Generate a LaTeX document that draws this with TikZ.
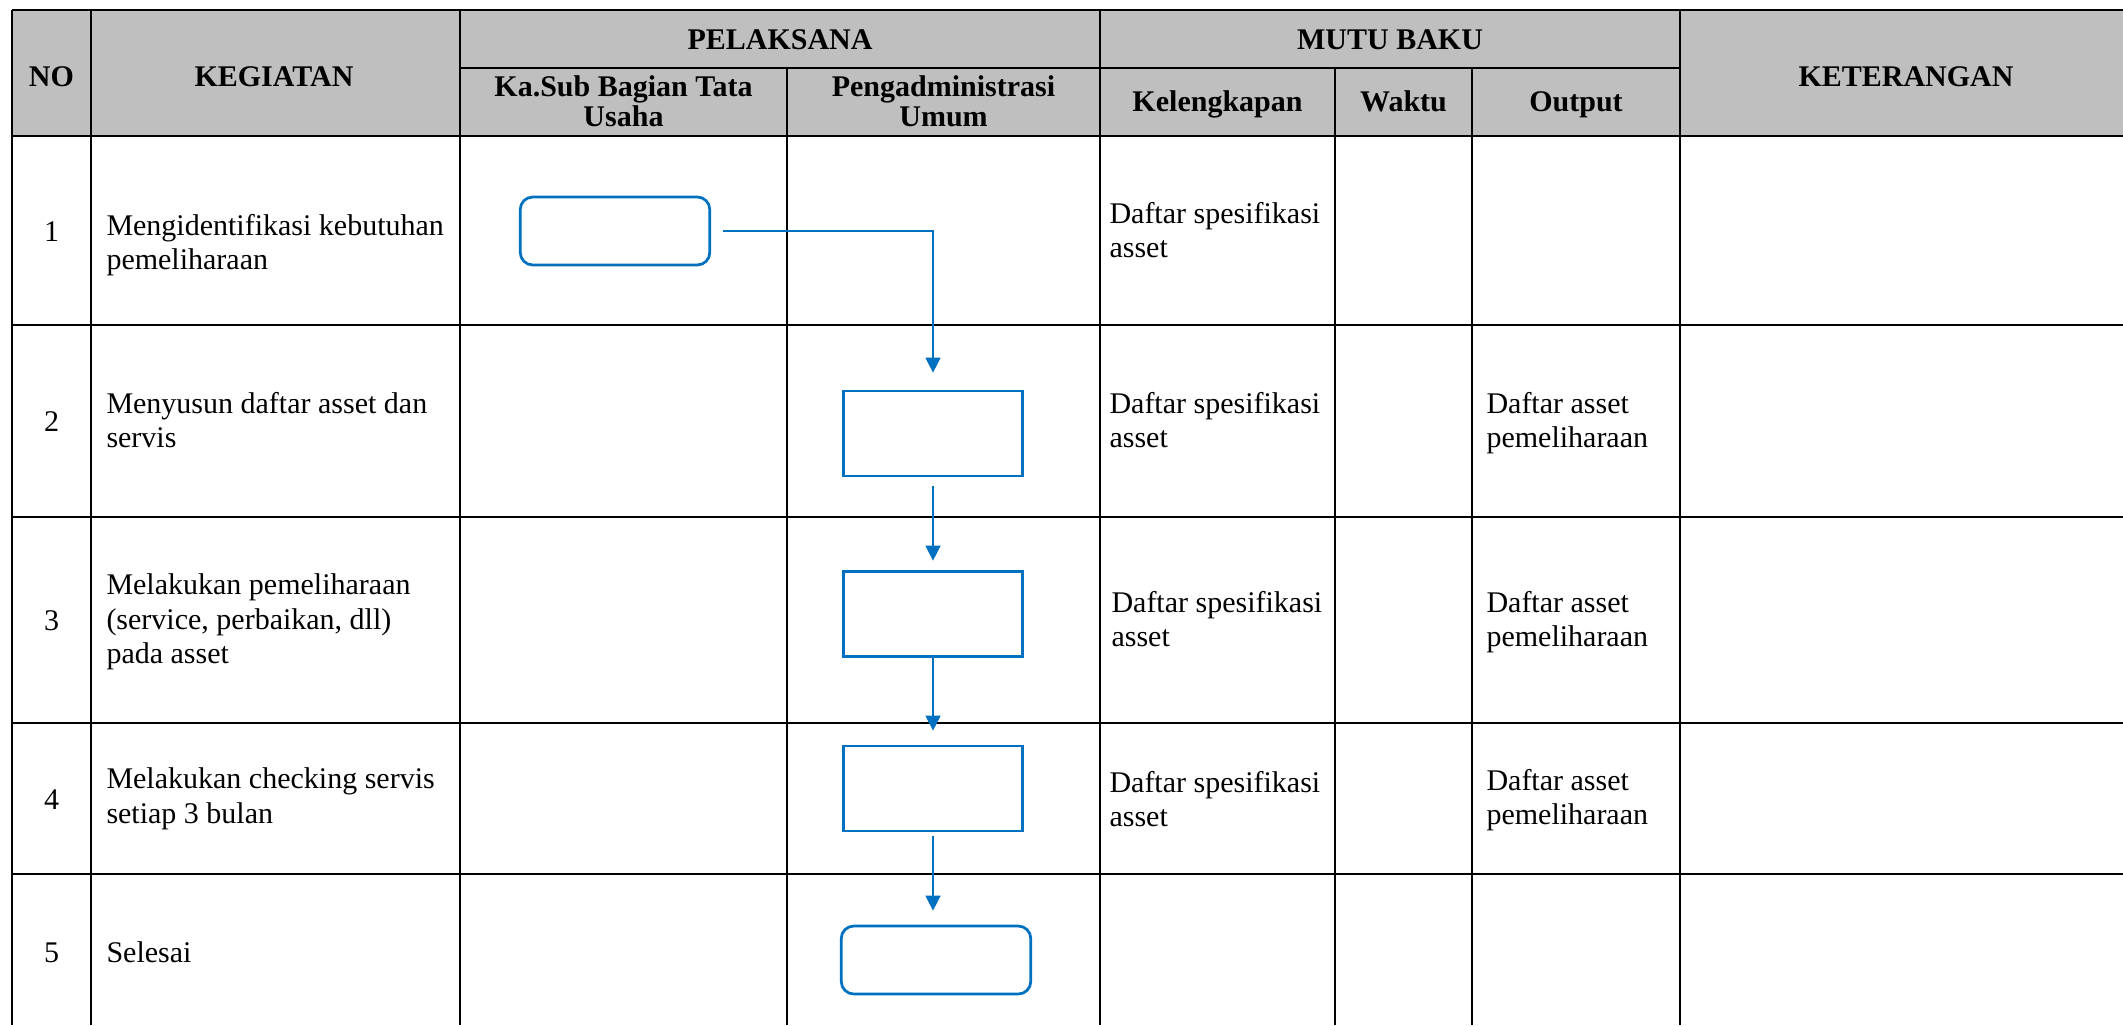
\documentclass[tikz,border=0pt]{standalone}
\usepackage{fontspec}
\setmainfont{Liberation Serif}
\usepackage{xcolor}
\usepackage{tikz}
\usetikzlibrary{arrows.meta, positioning}
\definecolor{flowblue}{RGB}{0, 112, 192}
\definecolor{headgray}{RGB}{191, 191, 191}

\begin{document}
\begin{tikzpicture}[
    x=0.4pt, y=-0.4pt,
    font=\fontsize{12}{13.8}\selectfont,
    tline/.style={line width=0.9pt},
    head/.style={font=\fontsize{12}{12}\selectfont\bfseries, align=center, inner sep=0pt},
    cell/.style={anchor=west, align=left, inner sep=0pt},
    num/.style={inner sep=0pt},
    proc/.style={draw=flowblue, line width=1.1pt, minimum width=71.7pt, minimum height=34pt},
    term/.style={draw=flowblue, line width=1.1pt, rounded corners=5pt,
                 minimum width=75.8pt, minimum height=27.2pt},
    flow/.style={draw=flowblue, line width=0.6pt, -{Triangle[length=6pt, width=6pt]}}
]
    \useasboundingbox (0,0) rectangle (2123,1025);

    \fill[headgray] (12,10) rectangle (2123,136);
    \draw[tline] (12,10) -- (2123,10) (460,68) -- (1680,68) (12,136) -- (2123,136)
        (12,325) -- (2123,325) (12,517) -- (2123,517) (12,723) -- (2123,723) (12,874) -- (2123,874);
    \draw[tline] (12,10) -- (12,1025) (91,10) -- (91,1025) (460,10) -- (460,1025)
        (1100,10) -- (1100,1025) (1680,10) -- (1680,1025)
        (787,68) -- (787,1025) (1335,68) -- (1335,1025) (1472,68) -- (1472,1025);

    \node[head, anchor=base] (no) at (51.5,87) {NO};
    \node[head, anchor=base] (kegiatan) at (274,87) {KEGIATAN};
    \node[head, anchor=base] (pelaksana) at (780,50) {PELAKSANA};
    \node[head, anchor=base] (mutu) at (1390,50) {MUTU BAKU};
    \node[head, anchor=base] (ket) at (1906,87) {KETERANGAN};
    \node[head] (kasub) at (623.5,101) {Ka.Sub Bagian Tata\\Usaha};
    \node[head] (peng) at (943.5,101) {Pengadministrasi\\Umum};
    \node[head, anchor=base] (lengkap) at (1217.5,111.5) {Kelengkapan};
    \node[head, anchor=base] (waktu) at (1403.5,111.5) {Waktu};
    \node[head, anchor=base] (output) at (1576,111.5) {Output};

    \node[num] (n1) at (51.5,232) {1};
    \node[num] (n2) at (51.5,422) {2};
    \node[num] (n3) at (51.5,621) {3};
    \node[num] (n4) at (51.5,800) {4};
    \node[num] (n5) at (51.5,953) {5};

    \node[cell] (k1) at (106,245) {Mengidentifikasi kebutuhan\\pemeliharaan};
    \node[cell] (k2) at (106,420) {Menyusun daftar asset dan\\servis};
    \node[cell] (k3) at (106,622) {Melakukan pemeliharaan\\(service, perbaikan, dll)\\pada asset};
    \node[cell] (k4) at (106,799) {Melakukan checking servis\\setiap 3 bulan};
    \node[cell] (k5) at (106,952) {Selesai};

    \node[cell] (l1) at (1109,230) {Daftar spesifikasi\\asset};
    \node[cell] (l2) at (1109,420) {Daftar spesifikasi\\asset};
    \node[cell] (l3) at (1111,619) {Daftar spesifikasi\\asset};
    \node[cell] (l4) at (1109,799) {Daftar spesifikasi\\asset};
    \node[cell] (o2) at (1486,423) {Daftar asset\\pemeliharaan};
    \node[cell] (o3) at (1486,622) {Daftar asset\\pemeliharaan};
    \node[cell] (o4) at (1486,800) {Daftar asset\\pemeliharaan};

    \node[term] (identifikasi) at (615,231) {};
    \node[proc] (susun) at (933,433.5) {};
    \node[proc, below=37pt of susun] (rawat) {};
    \node[proc, below=34.8pt of rawat] (cek) {};
    \node[term] (selesai) at (936,960) {};

    \draw[flow, shorten <=4.8pt, shorten >=6.8pt] (identifikasi.east) -| (susun.north);
    \draw[flow, shorten <=3.5pt, shorten >=3.7pt] (susun.south) -- (rawat.north);
    \draw[flow, shorten >=5.6pt] (rawat.south) -- (cek.north);
    \draw[flow, shorten <=1.6pt, shorten >=5.6pt] (cek.south) -- (cek.south |- selesai.north);
\end{tikzpicture}
\end{document}
